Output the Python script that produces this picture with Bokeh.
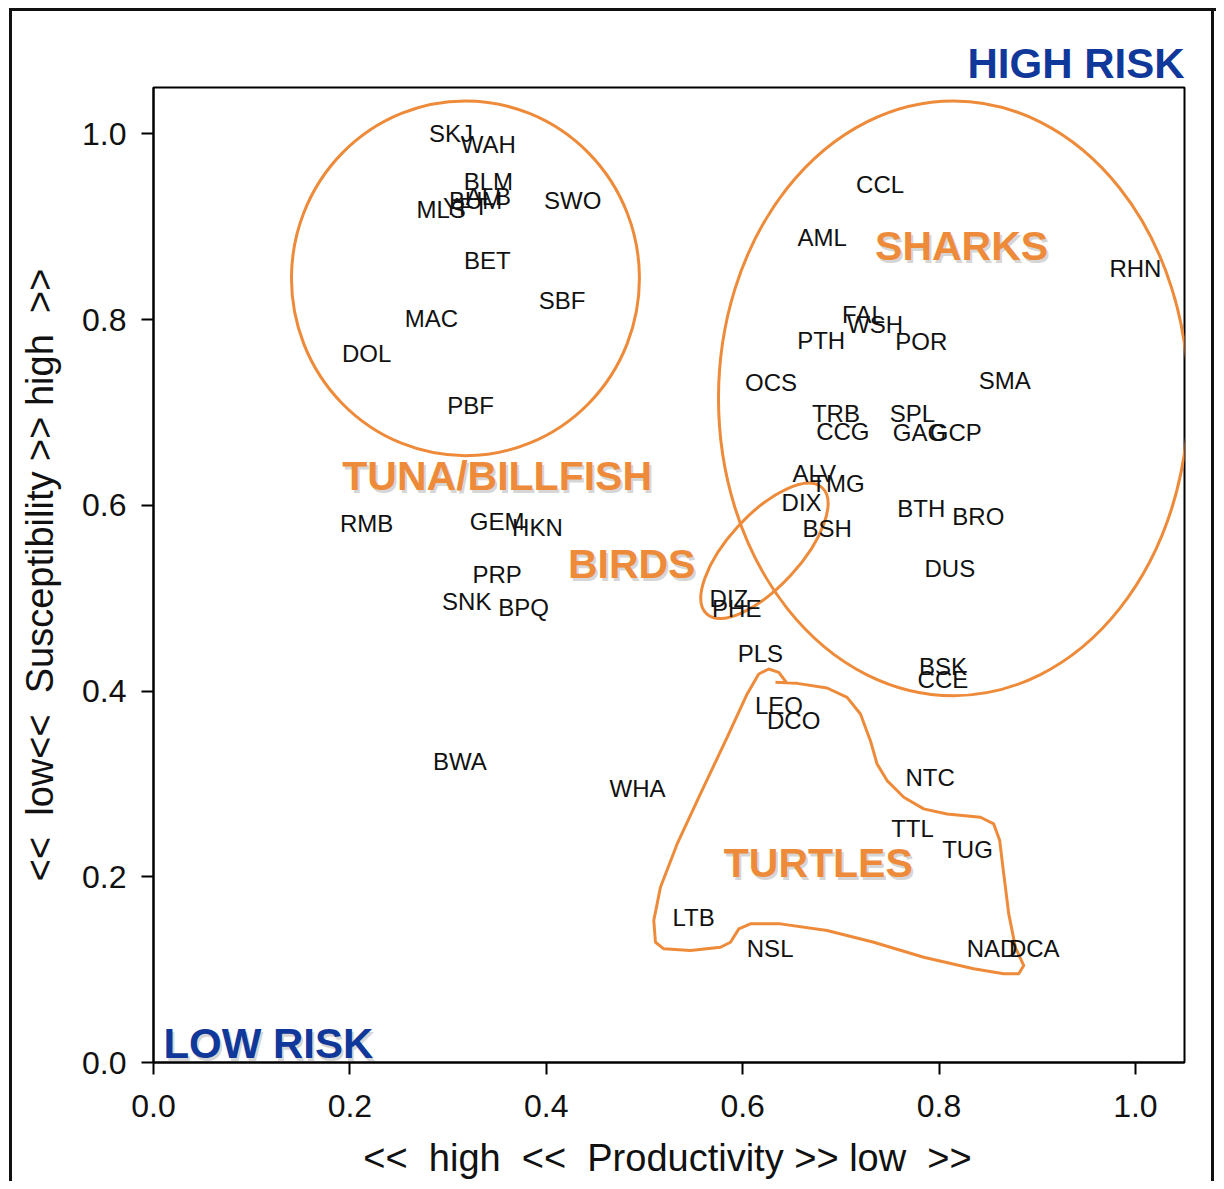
from bokeh.plotting import figure
from bokeh.models import Range1d, FixedTicker, PrintfTickFormatter, ColumnDataSource, Label
from bokeh.core.properties import value
from bokeh.embed import file_html
from bokeh.resources import INLINE

# ---- species codes with productivity (x) and susceptibility (y) ----
species = ["SKJ", "WAH", "BLM", "ALB", "BUM", "YFT", "MLS", "SWO", "BET", "SBF",
           "MAC", "DOL", "PBF",
           "CCL", "AML", "RHN", "FAL", "WSH", "PTH", "POR", "OCS", "SMA", "TRB",
           "CCG", "SPL", "GAG", "GCP", "ALV", "TMG", "DIX", "BSH", "BTH", "BRO",
           "DUS", "BSK", "CCE",
           "DIZ", "PHE",
           "PLS", "LEO", "DCO", "NTC", "TTL", "TUG", "LTB", "NSL", "NAD", "DCA",
           "RMB", "GEM", "HKN", "PRP", "SNK", "BPQ", "BWA", "WHA"]
productivity = [0.303, 0.341, 0.341, 0.341, 0.328, 0.318, 0.293, 0.427, 0.340, 0.416,
                0.283, 0.217, 0.323,
                0.740, 0.681, 1.000, 0.723, 0.735, 0.680, 0.782, 0.629, 0.867, 0.695,
                0.702, 0.773, 0.780, 0.817, 0.673, 0.697, 0.660, 0.686, 0.782, 0.840,
                0.811, 0.804, 0.804,
                0.586, 0.594,
                0.618, 0.637, 0.652, 0.791, 0.773, 0.829, 0.550, 0.628, 0.854, 0.897,
                0.217, 0.350, 0.391, 0.350, 0.319, 0.377, 0.312, 0.493]
susceptibility = [1.000, 0.989, 0.949, 0.933, 0.928, 0.922, 0.919, 0.928, 0.864, 0.821,
                  0.801, 0.764, 0.708,
                  0.946, 0.889, 0.855, 0.806, 0.795, 0.778, 0.776, 0.732, 0.735, 0.699,
                  0.680, 0.699, 0.678, 0.678, 0.634, 0.624, 0.603, 0.575, 0.597, 0.588,
                  0.532, 0.427, 0.412,
                  0.500, 0.489,
                  0.440, 0.384, 0.368, 0.307, 0.252, 0.229, 0.156, 0.123, 0.123, 0.123,
                  0.580, 0.583, 0.576, 0.526, 0.496, 0.490, 0.324, 0.295]

# ---- group annotations ----
group_names = ["TUNA/BILLFISH", "BIRDS", "SHARKS", "TURTLES"]
group_x = [0.350, 0.487, 0.823, 0.677]
group_y = [0.632, 0.537, 0.879, 0.215]

ellipse_x = [0.3177, 0.8147, 0.6222]
ellipse_y = [0.8445, 0.7153, 0.5511]
ellipse_w = [0.3544, 0.4786, 0.1741]
ellipse_h = [0.3821, 0.6405, 0.0775]
ellipse_angle = [0.0, 0.0, 0.829]

turtle_x = [0.6334, 0.6555, 0.6860, 0.7064, 0.7200, 0.7301, 0.7369, 0.7471, 0.7641,
            0.7844, 0.8082, 0.8422, 0.8557, 0.8618, 0.8659, 0.8710, 0.8778, 0.8863,
            0.8812, 0.8659, 0.8353, 0.7844, 0.7335, 0.6860, 0.6385, 0.6079, 0.5961,
            0.5876, 0.5774, 0.5468, 0.5197, 0.5112, 0.5095, 0.5163, 0.5333, 0.5570,
            0.5842, 0.6046, 0.6164, 0.6266, 0.6368, 0.6453]
turtle_y = [0.4094, 0.4083, 0.4033, 0.3932, 0.3753, 0.3466, 0.3215, 0.3036, 0.2856,
            0.2731, 0.2677, 0.2641, 0.2569, 0.2390, 0.2031, 0.1601, 0.1241, 0.1044,
            0.0955, 0.0955, 0.1009, 0.1134, 0.1295, 0.1421, 0.1493, 0.1493, 0.1439,
            0.1295, 0.1241, 0.1206, 0.1224, 0.1295, 0.1529, 0.1887, 0.2354, 0.2892,
            0.3502, 0.3969, 0.4184, 0.4238, 0.4201, 0.4083]

risk_low_text = "LOW RISK"
risk_low_x = [0.117]
risk_low_y = [0.0205]
risk_high_text = "HIGH RISK"

ticks = [0.0, 0.2, 0.4, 0.6, 0.8, 1.0]
NB = "\u00a0"
x_label = f"<<{NB}{NB}high{NB}{NB}<<{NB}{NB}Productivity >> low{NB}{NB}>>"
y_label = f"<<{NB}{NB}low<<{NB}{NB}Susceptibility >> high{NB}{NB}>>"

ORANGE = "#EE8B3A"
BLUE = "#10389A"
FONT = "Liberation Sans"

p = figure(width=1216, height=1181, x_range=Range1d(0, 1.05), y_range=Range1d(0, 1.05),
           output_backend="svg", toolbar_location=None,
           min_border_left=153, min_border_top=87, min_border_right=32, min_border_bottom=119)
p.styles = {
    "background-color": "white",
    "background-image": "linear-gradient(#111,#111), linear-gradient(#111,#111), linear-gradient(#111,#111)",
    "background-size": "3px 100%, 100% 3px, 3px 100%",
    "background-position": "9px 8px, 9px 8px, 1211px 8px",
    "background-repeat": "no-repeat",
}
p.background_fill_color = "white"
p.border_fill_color = None
p.xgrid.visible = False
p.ygrid.visible = False
p.outline_line_color = "black"
p.outline_line_width = 2

p.title.text = risk_high_text
p.title.align = "right"
p.title.text_font = FONT
p.title.text_font_size = "42px"
p.title.text_font_style = "bold"
p.title.text_color = BLUE
p.title.standoff = 2

for ax in (p.xaxis[0], p.yaxis[0]):
    ax.ticker = FixedTicker(ticks=ticks)
    ax.formatter = PrintfTickFormatter(format="%.1f")
    ax.major_tick_in = 0
    ax.major_tick_out = 12
    ax.minor_tick_line_color = None
    ax.axis_line_width = 2
    ax.major_tick_line_width = 2
    ax.axis_line_color = "black"
    ax.major_label_text_font = FONT
    ax.major_label_text_font_size = "32px"
    ax.major_label_text_color = "#111111"
    ax.axis_label_text_font = FONT
    ax.axis_label_text_font_size = "38px"
    ax.axis_label_text_font_style = "normal"
    ax.axis_label_text_color = "#111111"

p.xaxis.major_label_standoff = 20
p.yaxis.major_label_standoff = 15
p.yaxis.axis_label_standoff = 18
p.yaxis.axis_label = y_label

# x-axis title placed in the lower margin, below the tick labels
p.add_layout(Label(x=514, y=4, x_units="screen", y_units="screen", text=x_label,
                   text_align="center", text_baseline="middle", text_font=FONT,
                   text_font_size="38px", text_color="#111111"), "below")

# ellipses
p.ellipse(x=ellipse_x, y=ellipse_y, width=ellipse_w, height=ellipse_h, angle=ellipse_angle,
          fill_color=None, line_color=ORANGE, line_width=3)
p.line(turtle_x, turtle_y, line_color=ORANGE, line_width=3)

# species labels
src = ColumnDataSource(dict(x=productivity, y=susceptibility, label=species))
p.text(x="x", y="y", text="label", source=src, text_align="center", text_baseline="middle",
       text_font=value(FONT), text_font_size="24px", text_color="#111111")

# group labels with soft shadow
gsrc = ColumnDataSource(dict(x=group_x, y=group_y, label=group_names))
p.text(x="x", y="y", text="label", source=gsrc, text_align="center", text_baseline="middle",
       text_font=value(FONT), text_font_size="41px", text_font_style="bold",
       text_color="#8a8a8a", text_alpha=0.35, x_offset=2, y_offset=3)
p.text(x="x", y="y", text="label", source=gsrc, text_align="center", text_baseline="middle",
       text_font=value(FONT), text_font_size="41px", text_font_style="bold",
       text_color=ORANGE)

# LOW RISK
p.text(x=risk_low_x, y=risk_low_y, text=[risk_low_text], text_align="center",
       text_baseline="middle", text_font=value(FONT), text_font_size="42px",
       text_font_style="bold", text_color="#8a8a8a", text_alpha=0.35, x_offset=2, y_offset=3)
p.text(x=risk_low_x, y=risk_low_y, text=[risk_low_text], text_align="center",
       text_baseline="middle", text_font=value(FONT), text_font_size="42px",
       text_font_style="bold", text_color=BLUE)

open("out.html", "w").write(file_html(p, INLINE))
